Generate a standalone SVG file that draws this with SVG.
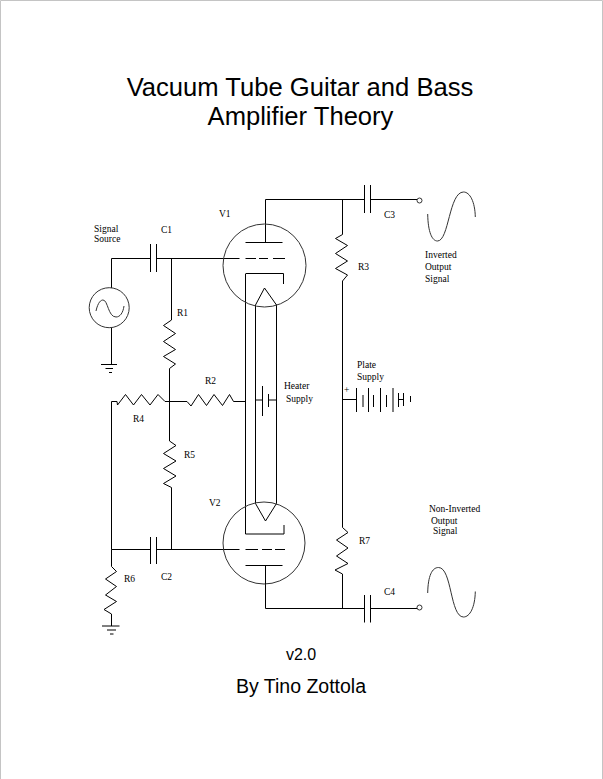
<svg xmlns="http://www.w3.org/2000/svg" width="603" height="779" viewBox="0 0 603 779">
<style>
.w{fill:none;stroke:#000;stroke-width:1}
.c{fill:none;stroke:#333;stroke-width:1}
.s{font-family:"Liberation Sans",Arial,sans-serif;fill:#000;text-anchor:middle}
.l{font-family:"Liberation Serif","Times New Roman",serif;font-size:9.5px;fill:#000}
</style>
<rect width="603" height="779" fill="#fff"/>
<path d="M0.500 779V0.500H602.500V779" fill="none" stroke="#c4c4c4" stroke-width="1"/>
<g id="title"><text class="s" x="300" y="96" font-size="25.600">Vacuum Tube Guitar and Bass</text><text class="s" x="300.500" y="124.500" font-size="25.600">Amplifier Theory</text></g>
<g id="connectors" class="w">
<path d="M265.500 225V199.500H364.500M370.500 199.500H417"/>
<path d="M342.500 199.500V234.500L335.500 238.500L347.500 245.500L335.500 253.500L347.500 261L335.500 268.500L347.500 275L342.500 281V527.500L348 532.500L336.500 540L348 548L336.500 556L348 563.500L335 570L342.500 574V608"/>
<path d="M265.500 584V608.500H364.500M370.500 608.500H417"/>
<path d="M111.500 288V258.500H150.500M156.500 258.500H239.500"/>
<path d="M171.500 258.500V320L163.500 325.500L175.500 333.500L163.500 341.500L175.500 349.500L163.500 356.500L175.500 364L169.500 368.500V441L176 445.500L163.500 453.500L176 461L163.500 468.500L176 476L163.500 483.500L171.500 487.500V549"/>
<path d="M111.500 549.500V401.500H117L117.500 405L125.500 394.500L133.500 405L141.500 394.500L150 405L158 394.500L165 401.500H187L191 406L198.500 394.500L206.500 405.500L214 394.500L222.500 405.500L229.500 394.500L233.500 401.500H246"/>
<path d="M111.500 549.500H150.500M156.500 549.500H239.500"/>
<path d="M111.500 549.500V566.500L116.500 571.500L105.500 579L116.500 586.500L105.500 595L116.500 601.500L104 609.500L111.500 614V626"/>
<path d="M111.500 328V364.500"/>
<path d="M255.500 400H262.500M268.500 400H276"/>
<path d="M342.500 399.500H356.500M398.500 399.500H403.500"/>
<path d="M245.500 274V534H284V525M245.500 273.500H283.500V284"/>
<path d="M255.500 305V503.500M276.500 305V503.500"/>
</g>
<g id="V1"><circle class="c" cx="264.500" cy="265.500" r="41.500"/><path class="w" d="M245.500 242.500H282.500M265.500 225V242.500M245.500 258.500H256M259 258.500H268M273 258.500H285M255.500 305L264.500 288L276.500 305"/></g>
<g id="V2"><circle class="c" cx="264" cy="543" r="41"/><path class="w" d="M245.500 565.500H282.500M265.500 565.500V584M245.500 549.500H258M262 549.500H272M275 549.500H285M255.500 503.500L265.500 521L276.500 503.500"/></g>
<g id="C1"><path class="w" d="M150.500 244V272M156.500 244V272"/></g>
<g id="C2"><path class="w" d="M150.500 537V564M156.500 537V564"/></g>
<g id="C3"><path class="w" d="M364.500 185V213M370.500 185V213"/><circle class="c" cx="419.500" cy="200.500" r="2.500"/></g>
<g id="C4"><path class="w" d="M364.500 595V622.500M370.500 595V622.500"/><circle class="c" cx="419.500" cy="607.500" r="2.500"/></g>
<g id="source"><circle class="c" cx="109.200" cy="307.700" r="20"/><path class="c" d="M96 311C98 302 101 300 103 300C108 300 108 317 116 317C120 317 123 313 124 306"/></g>
<g id="gnd1"><path class="w" d="M101 364.500H117M105.500 368.500H113M109 372.500H112"/></g>
<g id="gnd2"><path class="w" d="M102 626H119.500M107 630H116M110 634H113.500"/></g>
<g id="heater-battery"><path class="w" d="M262.500 386V416M268.500 394V407"/></g>
<g id="plate-battery"><path class="w" d="M356.500 388V412M363 395V407M368.500 388V412M373.500 395V407M380.500 388V412M386.500 395V407M393 388V412M398.500 393V407M403.500 393V406M410.500 396V402"/></g>
<g id="sine-top"><path class="c" d="M427.700 214C428 232 432 241 437.500 241C449 241 449 192 463.500 192C470 192 475 202 475.300 217"/></g>
<g id="sine-bottom"><path class="c" d="M427.700 593C428 576 432 567.500 438.500 567.500C452 567.500 450 617 463.500 617C470 617 475 607 475.300 591.500"/></g>
<g id="labels">
<text class="l" x="94" y="232">Signal</text><text class="l" x="94" y="242">Source</text>
<text class="l" x="161" y="233">C1</text><text class="l" x="219" y="217">V1</text>
<text class="l" x="177" y="316">R1</text><text class="l" x="205" y="384">R2</text>
<text class="l" x="284" y="389">Heater</text><text class="l" x="286" y="402">Supply</text>
<text class="l" x="133" y="422">R4</text><text class="l" x="184" y="458">R5</text>
<text class="l" x="209" y="506">V2</text><text class="l" x="124" y="582">R6</text>
<text class="l" x="161" y="580">C2</text><text class="l" x="384" y="218">C3</text>
<text class="l" x="358" y="270">R3</text>
<text class="l" x="425" y="258">Inverted</text><text class="l" x="425" y="270">Output</text><text class="l" x="425" y="282">Signal</text>
<text class="l" x="357" y="368">Plate</text><text class="l" x="357" y="380">Supply</text><text class="l" x="344" y="393">+</text>
<text class="l" x="429" y="512">Non-Inverted</text><text class="l" x="431" y="524">Output</text><text class="l" x="433" y="534">Signal</text>
<text class="l" x="359" y="544">R7</text><text class="l" x="384" y="595">C4</text>
</g>
<g id="credits"><text class="s" x="301" y="660" font-size="16">v2.0</text><text class="s" x="301" y="693" font-size="19.500">By Tino Zottola</text></g>
</svg>
